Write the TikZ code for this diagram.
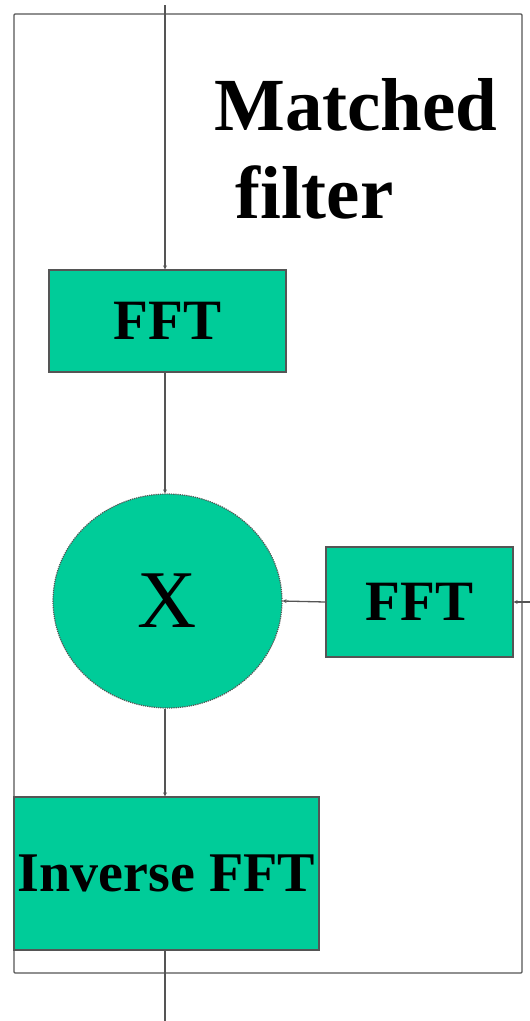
\documentclass[tikz,border=0pt]{standalone}
\usepackage{fontspec}
\setmainfont{Liberation Serif}
\usetikzlibrary{shapes.geometric}
\usetikzlibrary{arrows.meta}

\definecolor{boxgreen}{HTML}{00CC99}
\definecolor{wiregray}{HTML}{555555}

\tikzset{
  fftbox/.style={draw=wiregray, line width=1.2pt, fill=boxgreen, rectangle,
    inner sep=0pt, font=\bfseries\fontsize{57}{60}\selectfont},
  wire/.style={draw=wiregray, line width=1.3pt},
  arrowwire/.style={wire, -{Stealth[length=4pt,width=4pt]}}
}

\begin{document}
\begin{tikzpicture}[x=1pt,y=-1pt]
   \useasboundingbox (0,0) rectangle (530,1021);
   % frame
   \draw[wire, rounded corners=1pt] (14,14) rectangle (522,973);
   \node[anchor=base west, inner sep=0pt, align=left,
     font=\bfseries\fontsize{75}{88}\selectfont] (title) at (214,218)
     {Matched\\\hspace*{21pt}filter};
   % blocks
   \node[fftbox, minimum width=237pt, minimum height=102pt] (fft1) at (167.5,321) {FFT};
   \node[draw=wiregray, densely dotted, line width=1.2pt, fill=boxgreen, ellipse,
     minimum width=229pt, minimum height=214pt, inner sep=0pt,
     font=\fontsize{82}{86}\selectfont] (mult) at (167.5,601) {X};
   \node[fftbox, minimum width=187pt, minimum height=110pt] (fft2) at (419.5,602) {FFT};
   \node[fftbox, minimum width=305pt, minimum height=153pt,
     font=\bfseries\fontsize{56}{60}\selectfont] (ifft) at (166.5,873.5) {Inverse FFT};
   % end points
   \coordinate (in) at (165,5);
   \coordinate (out) at (165,1021);
   \coordinate (ref) at (530,602);
   % connectors
   \draw[arrowwire] (in) -- (in |- fft1.north);
   \draw[arrowwire] (in |- fft1.south) -- (in |- mult.north);
   \draw[arrowwire] (ref) -- (fft2.east);
   \draw[arrowwire] (fft2.west) -- (mult.east);
   \draw[arrowwire] (in |- mult.south) -- (in |- ifft.north);
   \draw[wire] (in |- ifft.south) -- (out);
\end{tikzpicture}
\end{document}
